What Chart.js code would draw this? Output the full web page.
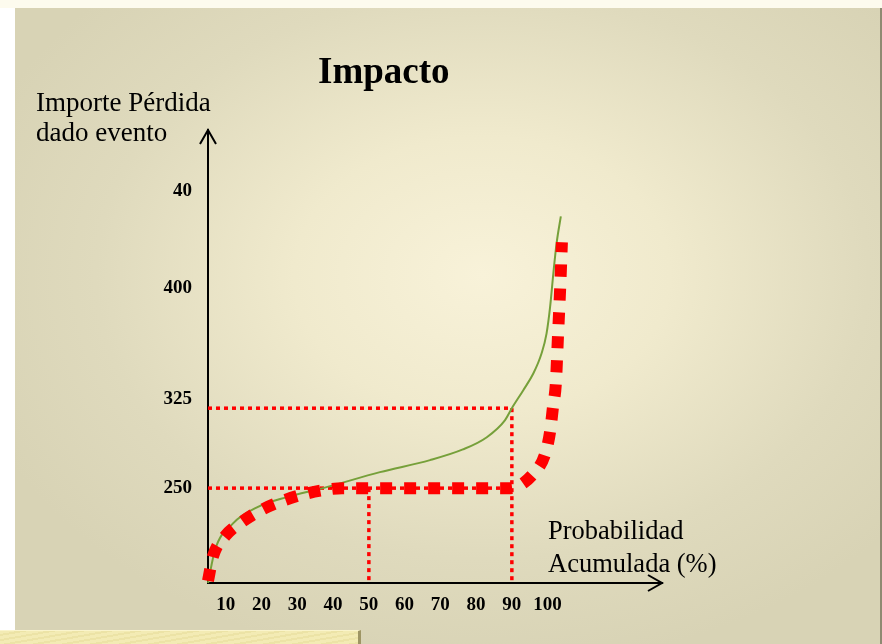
<!DOCTYPE html>
<html>
<head>
<meta charset="utf-8">
<script src="https://cdn.jsdelivr.net/npm/chart.js@4.4.0/dist/chart.umd.min.js"></script>
<style>
  html, body { margin: 0; padding: 0; background: #fff; }
  #stage { position: relative; width: 882px; height: 644px; overflow: hidden; background: #fff; }
  #topstrip { position: absolute; left: 0; top: 0; width: 882px; height: 8px; background: #fdfbee; }
  #slide {
    position: absolute; left: 15px; top: 8px; width: 865px; height: 636px;
    background: radial-gradient(ellipse 62% 62% at 54% 42%, #f8f2d9 0%, #f0eacd 35%, #dfdabd 72%, #d8d3b5 100%);
    border-right: 2px solid #8e8a72;
  }
  #bar {
    position: absolute; left: 0; top: 630px; width: 358px; height: 14px;
    background: repeating-linear-gradient(170deg, #f3ebb4 0 3px, #ece3a6 3px 5px);
    border-top: 1px solid #faf4cc; border-right: 3px solid #9e9564;
  }
  .lbl { position: absolute; font-family: 'Liberation Serif', 'Times New Roman', serif; color: #000; white-space: nowrap; }
  #title { left: 318px; top: 52px; font-size: 37px; line-height: 37px; font-weight: bold; }
  #ytitle { left: 36px; top: 87px; font-size: 27px; line-height: 30px; }
  #xtitle { left: 548px; top: 514px; font-size: 26.5px; line-height: 33px; }
  canvas { position: absolute; left: 0; top: 0; }
</style>
</head>
<body>
<div id="stage">
  <div id="topstrip"></div>
  <div id="slide"></div>
  <div id="bar"></div>
  <canvas id="impact-chart" width="882" height="644"></canvas>
  <div class="lbl" id="title">Impacto</div>
  <div class="lbl" id="ytitle">Importe Pérdida<br>dado evento</div>
  <div class="lbl" id="xtitle">Probabilidad<br>Acumulada (%)</div>
</div>
<script>
// green curve: probability (%) vs loss amount
const curveX = [5, 6.96, 12.0, 18.7, 27.1, 37.2, 53.1, 67.1, 76.3, 83.0, 88.1, 90, 93.2, 96.0, 98.3, 99.7, 100.7, 101.6, 102.5, 103.7];
const curveY = [161, 192, 217, 232, 241.6, 250, 265, 276.3, 286.3, 297.8, 313.8, 325, 341.9, 357.5, 376.3, 395, 420, 451.3, 479.4, 505];

// red thick dotted curve
const stressX = [5, 6.4, 9.8, 14.8, 20.4, 26.5, 33, 39.1, 42.5, 89.5, 95.9, 99.3, 100.7, 101.5, 102.3, 102.9, 103.5, 104];
const stressY = [163, 186, 205, 219, 230.3, 238.8, 245.3, 249, 250, 250, 263, 282, 303, 326, 348, 392.5, 436.6, 480.6];

// reference levels
const levelY = [250, 325];
const levelX = [50, 90];

// axis ticks
const xTicks = [10, 20, 30, 40, 50, 60, 70, 80, 90, 100];
const yTickAt = [250, 334, 438, 529];
const yTickLabels = ['250', '325', '400', '40'];

const X_MIN = 5, X_MAX = 132, Y_MIN = 161, Y_MAX = 586;

const toPts = (xs, ys) => xs.map((x, i) => ({ x, y: ys[i] }));

const refStyle = {
  borderColor: '#ff0000',
  borderWidth: 3.5,
  borderDash: [4, 4],
  pointRadius: 0,
  tension: 0,
  clip: false
};

const axisArrows = {
  id: 'axisArrows',
  afterDraw(chart) {
    const { ctx, chartArea: a } = chart;
    ctx.save();
    ctx.strokeStyle = '#000';
    ctx.lineWidth = 2;
    ctx.beginPath();
    ctx.moveTo(a.left - 8, a.top + 14);
    ctx.lineTo(a.left, a.top);
    ctx.lineTo(a.left + 8, a.top + 14);
    ctx.moveTo(a.right - 14, a.bottom - 8);
    ctx.lineTo(a.right, a.bottom);
    ctx.lineTo(a.right - 14, a.bottom + 8);
    ctx.stroke();
    ctx.restore();
  }
};

const tickFont = { family: "'Liberation Serif', serif", size: 19, weight: 'bold' };

new Chart(document.getElementById('impact-chart'), {
  type: 'line',
  data: {
    datasets: [
      {
        data: toPts(stressX, stressY),
        borderColor: '#ff0000',
        borderWidth: 12,
        borderDash: [12, 12],
        borderCapStyle: 'butt',
        cubicInterpolationMode: 'monotone',
        pointRadius: 0,
        clip: false
      },
      {
        data: toPts(curveX, curveY),
        borderColor: '#76a03a',
        borderWidth: 2,
        cubicInterpolationMode: 'monotone',
        pointRadius: 0,
        clip: false
      },
      { ...refStyle, data: [{ x: X_MIN, y: levelY[1] }, { x: levelX[1], y: levelY[1] }] },
      { ...refStyle, data: [{ x: levelX[1], y: levelY[1] }, { x: levelX[1], y: Y_MIN }] },
      { ...refStyle, data: [{ x: X_MIN, y: levelY[0] }, { x: levelX[1], y: levelY[0] }] },
      { ...refStyle, data: [{ x: levelX[0], y: levelY[0] }, { x: levelX[0], y: Y_MIN }] }
    ]
  },
  options: {
    responsive: false,
    animation: false,
    events: [],
    layout: { padding: { left: 0, top: 130, right: 220, bottom: 0 } },
    plugins: { legend: { display: false }, tooltip: { enabled: false }, title: { display: false } },
    scales: {
      x: {
        type: 'linear',
        min: X_MIN,
        max: X_MAX,
        afterBuildTicks: s => { s.ticks = xTicks.map(v => ({ value: v })); },
        afterFit: s => { s.height = 61; },
        grid: { display: false, drawTicks: false },
        border: { display: true, color: '#000', width: 2 },
        ticks: { color: '#000', font: tickFont, padding: 11, maxRotation: 0, autoSkip: false }
      },
      y: {
        type: 'linear',
        min: Y_MIN,
        max: Y_MAX,
        afterBuildTicks: s => { s.ticks = yTickAt.map(v => ({ value: v })); },
        afterFit: s => { s.width = 208; },
        grid: { display: false, drawTicks: false },
        border: { display: true, color: '#000', width: 2 },
        ticks: {
          color: '#000', font: tickFont, padding: 16, autoSkip: false,
          callback: (v, i) => yTickLabels[i]
        }
      }
    }
  },
  plugins: [axisArrows]
});
</script>
</body>
</html>
